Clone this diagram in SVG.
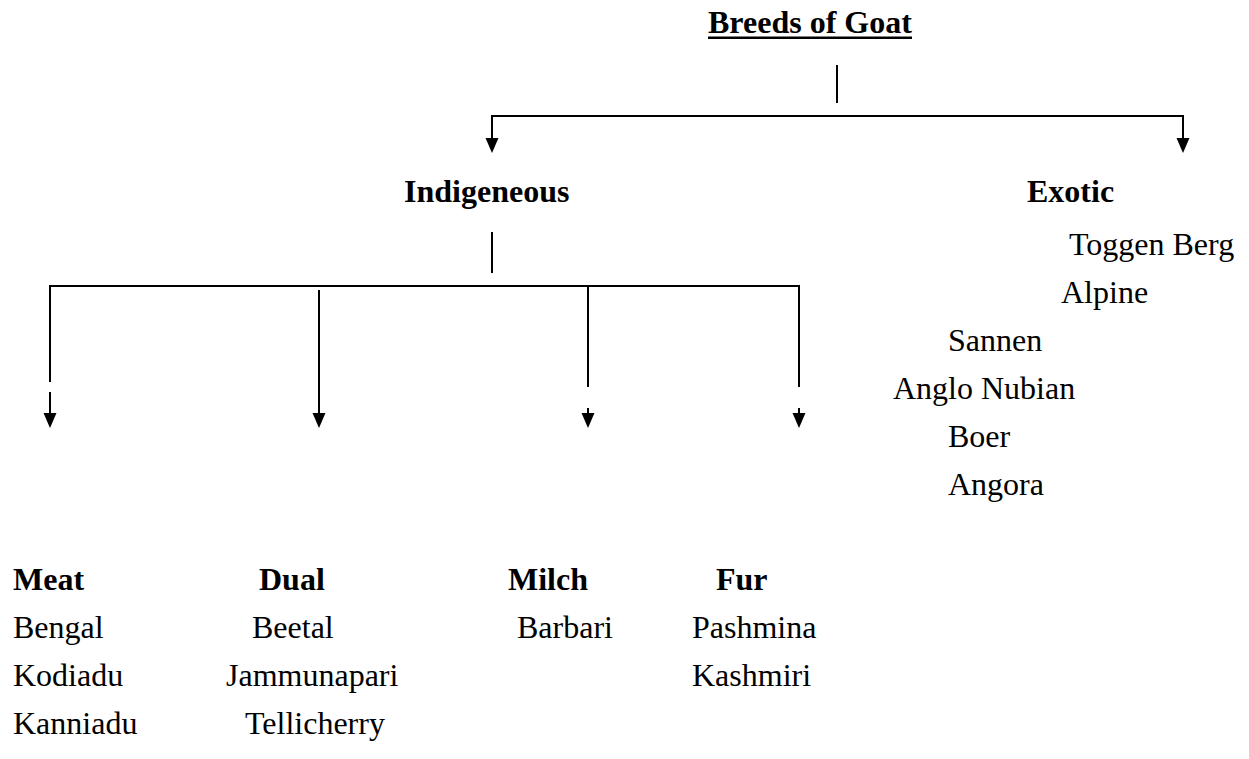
<svg xmlns="http://www.w3.org/2000/svg" xmlns:xlink="http://www.w3.org/1999/xlink" width="1249" height="759" viewBox="0 0 1249 759">
<style>
text{font-family:"Liberation Serif","Times New Roman",serif;font-size:32px;fill:#000}
.b{font-weight:bold}
.ln{stroke:#000;stroke-width:2;fill:none}
.ah{fill:#000}
</style>
<defs>
<path id="head" d="M-6.5,-15 L6.5,-15 L0,0 Z"/>
</defs>
<rect width="1249" height="759" fill="#fff"/>

<g id="connectors">
<path class="ln" d="M837,65 V103"/>
<path class="ln" d="M492,139 V116 H1183 V139"/>
<use xlink:href="#head" class="ah" x="492" y="153"/>
<use xlink:href="#head" class="ah" x="1183" y="153"/>

<path class="ln" d="M492,232 V273"/>
<path class="ln" d="M50,382 V286 H799 V387"/>
<path class="ln" d="M50,392 V414"/>
<use xlink:href="#head" class="ah" x="50" y="428"/>
<path class="ln" d="M319,290 V414"/>
<use xlink:href="#head" class="ah" x="319" y="428"/>
<path class="ln" d="M588,286 V387"/>
<path class="ln" d="M588,408 V414"/>
<use xlink:href="#head" class="ah" x="588" y="428"/>
<path class="ln" d="M799,408 V414"/>
<use xlink:href="#head" class="ah" x="799" y="428"/>
</g>

<g id="title">
<text class="b" x="708" y="33">Breeds of Goat</text>
<rect x="708" y="36.5" width="204" height="2.5" fill="#000"/>
</g>

<g id="indigenous">
<text class="b" x="404" y="202">Indigeneous</text>
</g>

<g id="exotic">
<text class="b" x="1027" y="202">Exotic</text>
<text x="1069" y="255">Toggen Berg</text>
<text x="1061" y="303">Alpine</text>
<text x="948" y="351">Sannen</text>
<text x="893" y="399">Anglo Nubian</text>
<text x="948" y="447">Boer</text>
<text x="948" y="495">Angora</text>
</g>

<g id="meat">
<text class="b" x="13" y="590">Meat</text>
<text x="13" y="638">Bengal</text>
<text x="13" y="686">Kodiadu</text>
<text x="13" y="734">Kanniadu</text>
</g>

<g id="dual">
<text class="b" x="259" y="590">Dual</text>
<text x="252" y="638">Beetal</text>
<text x="226" y="686">Jammunapari</text>
<text x="245" y="734">Tellicherry</text>
</g>

<g id="milch">
<text class="b" x="508" y="590">Milch</text>
<text x="517" y="638">Barbari</text>
</g>

<g id="fur">
<text class="b" x="716" y="590">Fur</text>
<text x="692" y="638">Pashmina</text>
<text x="692" y="686">Kashmiri</text>
</g>
</svg>
